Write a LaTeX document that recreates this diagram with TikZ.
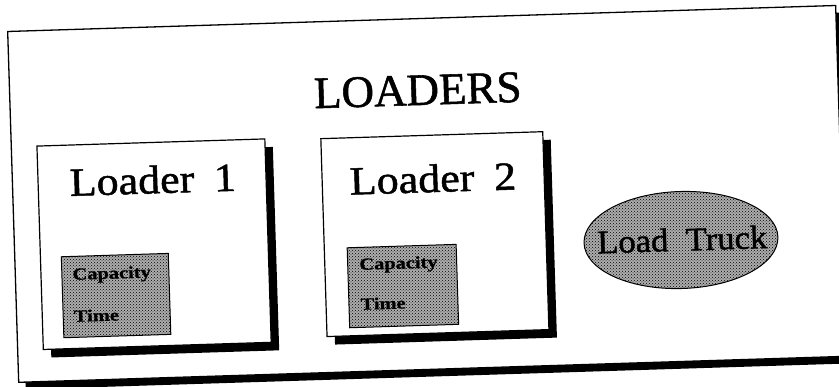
\documentclass[tikz,border=0pt]{standalone}
\usepackage{fontspec}
\setmainfont{Liberation Serif}
% slightly heavier face for the printed labels
\newfontfamily\inkserif{Liberation Serif}[FakeBold=1.2]
\newfontfamily\inkserifbold{Liberation Serif Bold}[FakeBold=0.8]
\usepackage{graphicx}
\usetikzlibrary{patterns,shapes.geometric}

\tikzset{
  panelbox/.style={draw=black, line width=1.3pt, fill=white, inner sep=0pt,
    preaction={fill=black, transform canvas={xshift=7pt, yshift=-7pt}}},
  loaderbox/.style={draw=black, line width=1.2pt, fill=white, inner sep=0pt,
    preaction={fill=black, transform canvas={xshift=8pt, yshift=-8pt}}},
  attrbox/.style={draw=black, line width=1pt, inner sep=0pt,
    preaction={fill=black!32}, pattern=crosshatch dots, pattern color=black},
  truckshape/.style={ellipse, draw=black, line width=1pt, inner sep=0pt,
    preaction={fill=black!32}, pattern=crosshatch dots, pattern color=black},
  txt/.style={inner sep=0pt, anchor=base west},
  headtxt/.style={inner sep=0pt, anchor=base, font=\fontsize{45}{45}\inkserif},
  loadertxt/.style={txt, font=\fontsize{40}{40}\inkserif},
  attrtxt/.style={txt, font=\fontsize{17}{17}\inkserifbold},
  trucktxt/.style={inner sep=0pt, anchor=base, font=\fontsize{33}{33}\inkserif},
}

\begin{document}
\begin{tikzpicture}[x=1pt, y=-1pt]
\useasboundingbox (0,0) rectangle (839,387);
\fill[white] (0,0) rectangle (839,387);

\begin{scope}[rotate around={1.8:(419.5,193.5)}, every node/.append style={transform shape}]
  % outer panel
  \node[panelbox, anchor=north west, minimum width=828.4pt, minimum height=351pt]
    (panel) at (12.3,18) {};
  \node[headtxt] (title) at (421,105) {LOADERS};

  % first loader
  \node[loaderbox, anchor=north west, minimum width=228pt, minimum height=203.5pt]
    (loaderA) at (38,133.5) {};
  \node[loadertxt] (loaderAname) at (70,185) {\scalebox{1.1}[1]{Loader\hspace{0.45em}1}};
  \node[attrbox, anchor=north west, minimum width=107pt, minimum height=81pt]
    (attrA) at (59,245) {};
  \node[attrtxt] (capA) at (70,269) {\scalebox{1.2}[1]{Capacity}};
  \node[attrtxt] (timeA) at (70,311) {\scalebox{1.2}[1]{Time}};

  % second loader
  \node[loaderbox, anchor=north west, minimum width=222pt, minimum height=198pt]
    (loaderB) at (322,135) {};
  \node[loadertxt] (loaderBname) at (350,192.5) {\scalebox{1.1}[1]{Loader\hspace{0.45em}2}};
  \node[attrbox, anchor=north west, minimum width=109pt, minimum height=80pt]
    (attrB) at (345,245) {};
  \node[attrtxt] (capB) at (357,268) {\scalebox{1.2}[1]{Capacity}};
  \node[attrtxt] (timeB) at (357,308) {\scalebox{1.2}[1]{Time}};

  % truck loading activity
  \node[truckshape, minimum width=194pt, minimum height=97pt] (truck) at (679.4,248.2) {};
  \node[trucktxt] (truckname) at (680.6,259) {\scalebox{1.05}[1]{Load\hspace{0.5em}Truck}};
\end{scope}
\end{tikzpicture}
\end{document}
